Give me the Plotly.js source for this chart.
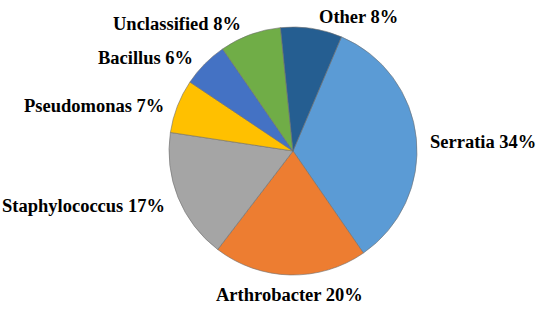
<!DOCTYPE html>
<html>
<head>
<meta charset="utf-8">
<script src="https://cdn.plot.ly/plotly-3.0.1.min.js"></script>
<style>
	html, body { margin: 0; padding: 0; background: #ffffff; }
	#chart1 { width: 550px; height: 312px; }
</style>
</head>
<body>
<div id="chart1"></div>
<script>

var genera = ['Serratia', 'Arthrobacter', 'Staphylococcus', 'Pseudomonas', 'Bacillus', 'Unclassified', 'Other'];
var shares = [34, 20, 17, 7, 6, 8, 8];
var sliceColors = ['#5b9bd5', '#ed7d31', '#a5a5a5', '#ffc000', '#4472c4', '#70ad47', '#255e91'];

// page + pie geometry (pixels)
var W = 550, H = 312;
var cx = 293, cy = 151, r = 124;
var startAngle = 23;

var labelFont = {
	family: 'Liberation Serif, Times New Roman, serif',
	size: 18.5,
	color: '#000000',
	weight: 'bold'
};

// labels sit just outside each slice, on its middle angle
function buildLabels() {
	var total = shares.reduce(function (a, b) { return a + b; }, 0);
	var gap = 8, h = 16, drop = 4;
	var cum = 0;
	var annotations = [];

	for (var i = 0; i < shares.length; i++) {
		var v = shares[i];
		var mid = (startAngle + (cum + v / 2) / total * 360) * Math.PI / 180;
		cum += v;

		var ux = Math.sin(mid);
		var uy = -Math.cos(mid);
		var px = cx + (r + gap) * ux;
		var py = cy + (r + gap) * uy;
		var xanchor;

		if (Math.abs(ux) < 0.1) {
			xanchor = 'center';
			py += Math.sign(uy) * h / 2;
		} else {
			xanchor = ux > 0 ? 'left' : 'right';
			px += Math.sign(ux) * h / 4;
			py += Math.sign(uy) * h / 2 * uy * uy;
		}
		py += drop;

		annotations.push({
			xref: 'paper', yref: 'paper',
			x: px / W, y: 1 - py / H,
			xanchor: xanchor, yanchor: 'middle',
			text: genera[i] + ' ' + Math.round(v / total * 100) + '%',
			showarrow: false,
			font: labelFont
		});
	}
	return annotations;
}

function drawPie() {

	var trace = {
		type: 'pie',
		labels: genera,
		values: shares,
		sort: false,
		direction: 'clockwise',
		rotation: startAngle,
		textinfo: 'none',
		marker: {
			colors: sliceColors,
			line: {color: '#6f6f6f', width: 0.6}
		},
		automargin: false,
		hoverinfo: 'label+percent',
		domain: {
			x: [(cx - r) / W, (cx + r) / W],
			y: [1 - (cy + r) / H, 1 - (cy - r) / H]
		}
	};

	var layout = {
		width: W,
		height: H,
		showlegend: false,
		paper_bgcolor: '#ffffff',
		margin: {l: 0, r: 0, t: 0, b: 0},
		annotations: buildLabels()
	};

	Plotly.newPlot('chart1', [trace], layout, {displayModeBar: false, staticPlot: true});
}

drawPie();
</script>
</body>
</html>
